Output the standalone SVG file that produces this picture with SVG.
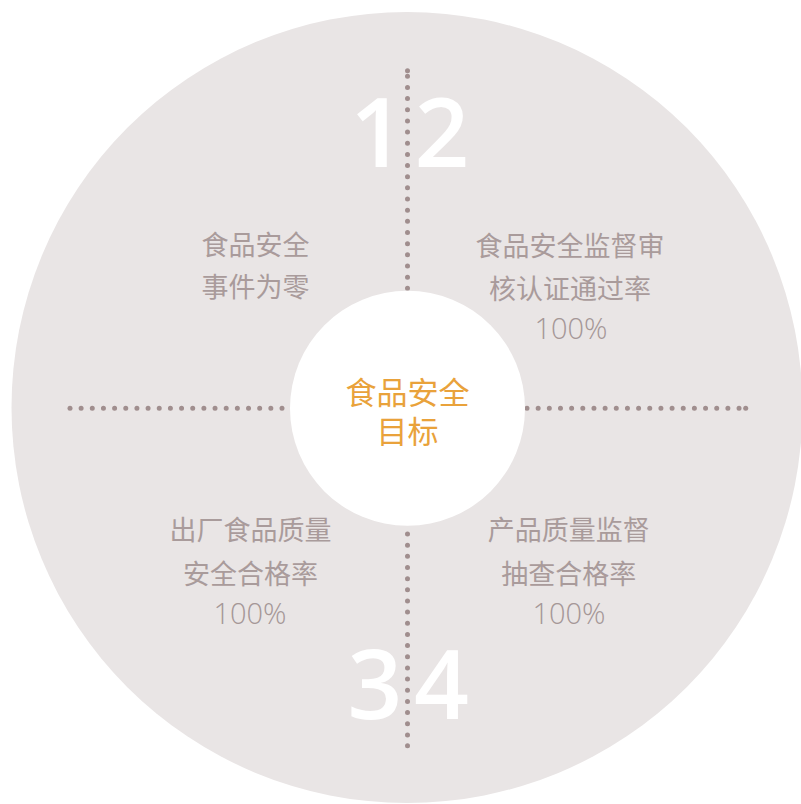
<svg xmlns="http://www.w3.org/2000/svg" width="801" height="804" viewBox="0 0 801 804">
<defs>
<style>
.dots{fill:none;stroke:#a08e8e;stroke-width:5;stroke-linecap:round;stroke-dasharray:0 11.16;marker-end:url(#dot)}
.q{font-family:"Open Sans","Noto Sans CJK SC",sans-serif;font-size:27px;fill:#a99b9b;text-anchor:middle}
.pct{font-weight:300;font-size:29px;fill:#a59797}
.num{font-family:"Open Sans","Liberation Sans",sans-serif;font-size:96px;font-weight:600;fill:#ffffff;text-anchor:middle}
.ctr{font-family:"Noto Sans CJK SC",sans-serif;font-size:31px;fill:#e9a23b;text-anchor:middle}
</style>
<marker id="dot" markerUnits="userSpaceOnUse" markerWidth="6" markerHeight="6" refX="3" refY="3" viewBox="0 0 6 6"><circle cx="3" cy="3" r="2.5" fill="#a08e8e"/></marker>
</defs>
<circle id="outer" cx="407" cy="407.5" r="395.5" fill="#e9e5e5"/>
<g id="numbers">
<text class="num" x="414.5" y="166.5" letter-spacing="9.5">12</text>
<text class="num" x="414" y="718.5" letter-spacing="11.5">34</text>
</g>
<g id="connectors">
<path class="dots" d="M407.5 288.3 L407.5 70.7"/>
<path class="dots" d="M407.5 534 L407.5 745.7"/>
<path class="dots" d="M527 408.3 L745.7 408.3"/>
<path class="dots" d="M282 408.3 L70 408.3"/>
</g>
<g id="center">
<circle cx="407.5" cy="408.3" r="117.5" fill="#ffffff"/>
<text class="ctr" x="407.5" y="404">食品安全</text>
<text class="ctr" x="407.5" y="443">目标</text>
</g>
<g id="q1">
<text class="q" x="255.5" y="255.3">食品安全</text>
<text class="q" x="255.5" y="297">事件为零</text>
</g>
<g id="q2">
<text class="q" x="570" y="256">食品安全监督审</text>
<text class="q" x="570" y="298.6">核认证通过率</text>
<text class="q pct" x="571" y="339.3">100%</text>
</g>
<g id="q3">
<text class="q" x="250.5" y="540.3">出厂食品质量</text>
<text class="q" x="250.5" y="583.5">安全合格率</text>
<text class="q pct" x="250" y="623.5">100%</text>
</g>
<g id="q4">
<text class="q" x="568.7" y="540.3">产品质量监督</text>
<text class="q" x="568.7" y="583.5">抽查合格率</text>
<text class="q pct" x="569" y="623.5">100%</text>
</g>
</svg>
